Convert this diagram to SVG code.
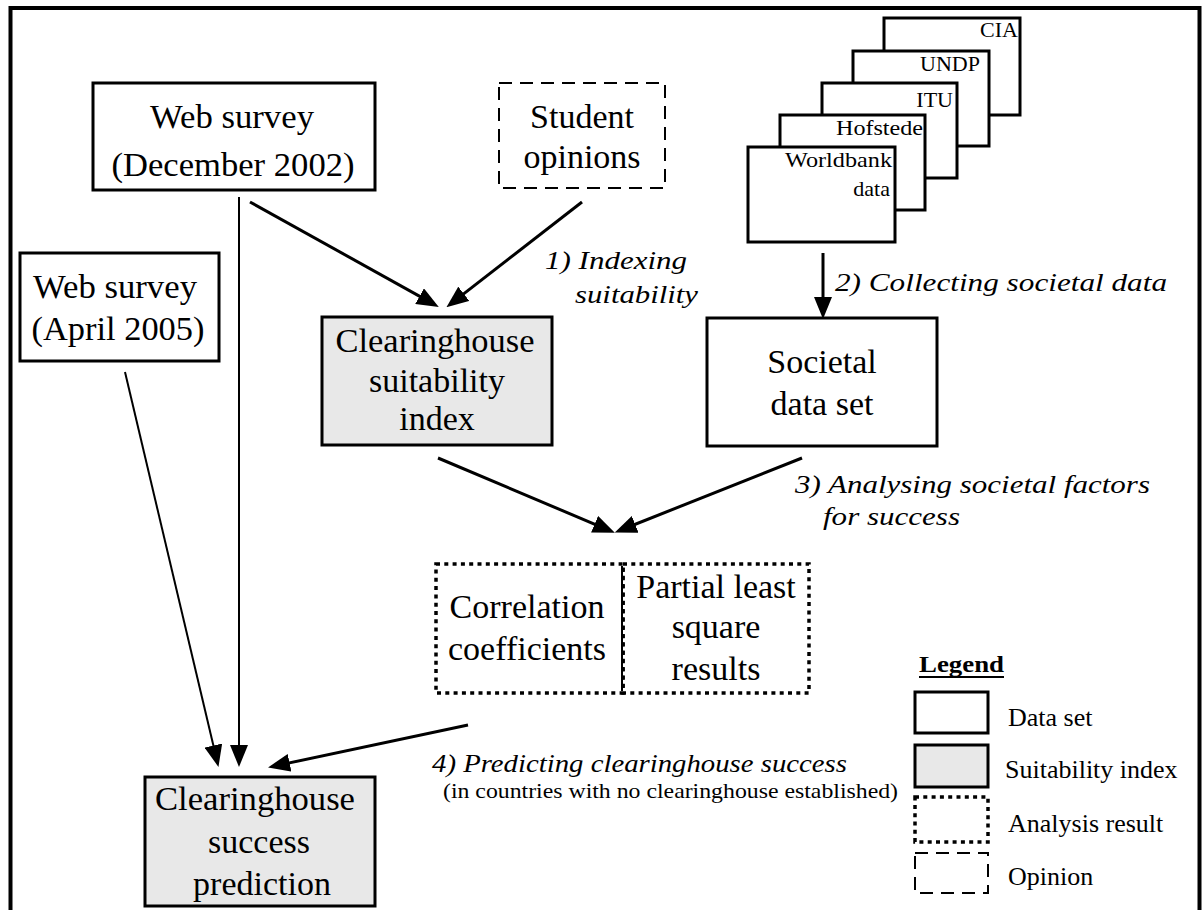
<svg xmlns="http://www.w3.org/2000/svg" width="1203" height="910" viewBox="0 0 1203 910">
<defs>
<style>
.box{fill:#fff;stroke:#000;stroke-width:3}
.idx{fill:#e8e8e8;stroke:#000;stroke-width:3}
.dash{fill:#fff;stroke:#000;stroke-width:2;stroke-dasharray:13 8}
.dot{fill:none;stroke:#000;stroke-width:3.5;stroke-dasharray:4 4.3}
.t{font-family:"Liberation Serif","Times New Roman",serif;font-size:34px;fill:#000;text-anchor:middle}
.s{font-family:"Liberation Serif","Times New Roman",serif;font-size:22px;fill:#000;text-anchor:end}
.lab{font-family:"Liberation Serif","Times New Roman",serif;font-size:26px;font-style:italic;fill:#000}
.leg{font-family:"Liberation Serif","Times New Roman",serif;font-size:26px;fill:#000}
.c{stroke:#000;stroke-width:3;fill:none;marker-end:url(#ah)}
.cn{stroke:#000;stroke-width:2;fill:none;marker-end:url(#ah)}
</style>
<marker id="ah" markerUnits="userSpaceOnUse" markerWidth="22" markerHeight="18" refX="10" refY="9" orient="auto">
<path d="M0,0 L22,9 L0,18 z" fill="#000"/>
</marker>
</defs>
<rect x="10.5" y="8" width="1189" height="920" fill="#fff" stroke="#000" stroke-width="4"/>

<g id="web-survey-2002">
<rect class="box" x="93" y="83" width="282" height="107"/>
<text class="t" x="232" y="128" textLength="164" lengthAdjust="spacingAndGlyphs">Web survey</text>
<text class="t" x="233" y="176" textLength="243" lengthAdjust="spacingAndGlyphs">(December 2002)</text>
</g>

<g id="student-opinions">
<rect class="dash" x="499" y="83" width="166" height="105"/>
<text class="t" x="582" y="128">Student</text>
<text class="t" x="582" y="168">opinions</text>
</g>

<g id="data-sources">
<rect class="box" x="884" y="18" width="136" height="97"/>
<text class="s" x="1018" y="37">CIA</text>
<rect class="box" x="853" y="51" width="136" height="95"/>
<text class="s" x="980" y="71">UNDP</text>
<rect class="box" x="822" y="83" width="135" height="95"/>
<text class="s" x="953" y="107">ITU</text>
<rect class="box" x="780" y="115" width="145" height="95"/>
<text class="s" x="923" y="135" textLength="87" lengthAdjust="spacingAndGlyphs">Hofstede</text>
<rect class="box" x="748" y="147" width="147" height="95"/>
<text class="s" x="892" y="167" textLength="107" lengthAdjust="spacingAndGlyphs">Worldbank</text>
<text class="s" x="890" y="196">data</text>
</g>

<g id="web-survey-2005">
<rect class="box" x="20" y="253" width="199" height="108"/>
<text class="t" x="115" y="298" textLength="164" lengthAdjust="spacingAndGlyphs">Web survey</text>
<text class="t" x="118" y="340" textLength="173" lengthAdjust="spacingAndGlyphs">(April 2005)</text>
</g>

<g id="suitability-index">
<rect class="idx" x="322" y="317" width="230" height="128"/>
<text class="t" x="435" y="352" textLength="199" lengthAdjust="spacingAndGlyphs">Clearinghouse</text>
<text class="t" x="437" y="392">suitability</text>
<text class="t" x="437" y="430">index</text>
</g>

<g id="societal-data-set">
<rect class="box" x="707" y="318" width="230" height="128"/>
<text class="t" x="822" y="373">Societal</text>
<text class="t" x="822" y="415">data set</text>
</g>

<g id="analysis-results">
<rect class="dot" x="436" y="564" width="187" height="129"/>
<rect class="dot" x="623" y="564" width="186" height="129"/>
<line x1="622" y1="566" x2="622" y2="691" stroke="#000" stroke-width="2"/>
<text class="t" x="527" y="618">Correlation</text>
<text class="t" x="527" y="660">coefficients</text>
<text class="t" x="716" y="598">Partial least</text>
<text class="t" x="716" y="638">square</text>
<text class="t" x="716" y="680">results</text>
</g>

<g id="success-prediction">
<rect class="idx" x="145" y="777" width="230" height="129"/>
<text class="t" x="255" y="810" textLength="200" lengthAdjust="spacingAndGlyphs">Clearinghouse</text>
<text class="t" x="259" y="853">success</text>
<text class="t" x="262" y="895">prediction</text>
</g>

<g id="connectors">
<line class="c" x1="250" y1="202" x2="428.3" y2="301.1"/>
<line class="c" x1="582" y1="202" x2="455.9" y2="299.9"/>
<line class="c" x1="823" y1="253" x2="823" y2="307"/>
<line class="c" x1="438" y1="458" x2="603.8" y2="528.1"/>
<line class="c" x1="802" y1="458" x2="625.9" y2="528"/>
<line class="cn" x1="125" y1="372" x2="215.7" y2="755.3"/>
<line class="cn" x1="239" y1="197" x2="239" y2="755"/>
<line class="c" x1="468" y1="725" x2="279.8" y2="764.9"/>
</g>

<g id="labels">
<text class="lab" x="545" y="269" textLength="142" lengthAdjust="spacingAndGlyphs">1) Indexing</text>
<text class="lab" x="575" y="303" textLength="123" lengthAdjust="spacingAndGlyphs">suitability</text>
<text class="lab" x="835" y="291" textLength="332" lengthAdjust="spacingAndGlyphs">2) Collecting societal data</text>
<text class="lab" x="795" y="493" textLength="355" lengthAdjust="spacingAndGlyphs">3) Analysing societal factors</text>
<text class="lab" x="823" y="525" textLength="137" lengthAdjust="spacingAndGlyphs">for success</text>
<text class="lab" x="432" y="772" textLength="415" lengthAdjust="spacingAndGlyphs">4) Predicting clearinghouse success</text>
<text class="leg" x="443" y="798" style="font-size:21px" textLength="455" lengthAdjust="spacingAndGlyphs">(in countries with no clearinghouse established)</text>
</g>

<g id="legend">
<text class="leg" x="919" y="672" style="font-weight:bold;font-size:24px" textLength="85" lengthAdjust="spacingAndGlyphs">Legend</text>
<line x1="919" y1="677" x2="1004" y2="677" stroke="#000" stroke-width="2"/>
<rect class="box" x="915" y="692" width="73" height="41"/>
<text class="leg" x="1008" y="726">Data set</text>
<rect class="idx" x="915" y="745" width="73" height="42"/>
<text class="leg" x="1005" y="778">Suitability index</text>
<rect class="dot" x="915" y="797" width="73" height="45"/>
<text class="leg" x="1008" y="832">Analysis result</text>
<rect class="dash" x="915" y="853" width="73" height="40"/>
<text class="leg" x="1008" y="885">Opinion</text>
</g>
</svg>
